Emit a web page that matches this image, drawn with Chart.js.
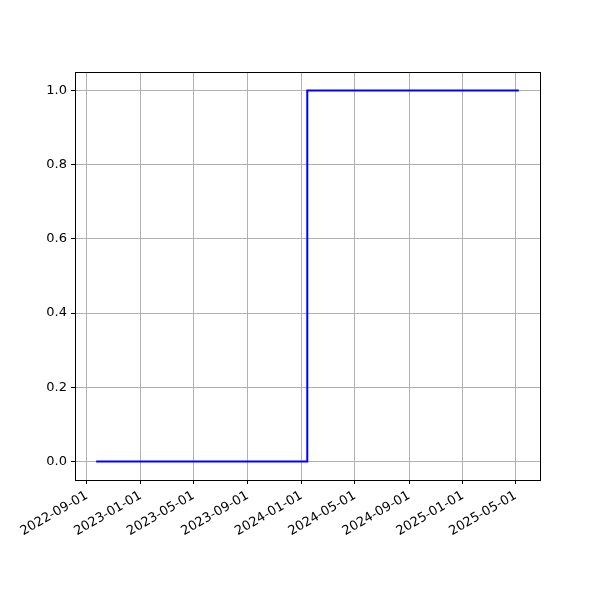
<!DOCTYPE html>
<html>
<head>
<meta charset="utf-8">
<script src="https://cdn.jsdelivr.net/npm/chart.js@4"></script>
<style>
  html, body { margin: 0; padding: 0; background: #fff; }
  #wrap { width: 600px; height: 600px; }
</style>
</head>
<body>
<div id="wrap"><canvas id="Chart" width="600" height="600"></canvas></div>
<script>
// step series
var dates = ['2022-09-22', '2024-01-14', '2025-05-08'];
var values = [0, 1, 1];

var xTickLabels = ['2022-09-01', '2023-01-01', '2023-05-01', '2023-09-01', '2024-01-01',
                   '2024-05-01', '2024-09-01', '2025-01-01', '2025-05-01'];
var yTickLabels = [0.0, 0.2, 0.4, 0.6, 0.8, 1.0];

function toTs(s) {
	var p = s.split('-');
	return Date.UTC(+p[0], +p[1] - 1, +p[2]);
}
function fmt(ts) {
	var d = new Date(ts);
	var m = d.getUTCMonth() + 1, day = d.getUTCDate();
	return d.getUTCFullYear() + '-' + (m < 10 ? '0' : '') + m + '-' + (day < 10 ? '0' : '') + day;
}

var pts = [];
for (var i = 0; i < dates.length; i++) {
	pts.push({ x: toTs(dates[i]), y: values[i] });
}

// 5% margins like matplotlib
var xmin = pts[0].x, xmax = pts[pts.length - 1].x;
var xspan = xmax - xmin;

var frame = {
	id: 'frame',
	afterDraw: function(chart) {
		var a = chart.chartArea, c = chart.ctx;
		c.save();
		c.strokeStyle = '#000';
		c.lineWidth = 1;
		c.strokeRect(Math.round(a.left) + 0.5, Math.round(a.top) + 0.5,
			Math.round(a.right - a.left), Math.round(a.bottom - a.top));
		c.restore();
	}
};

var ctx = document.getElementById('Chart').getContext('2d');
var chart = new Chart(ctx, {
	type: 'line',
	data: {
		datasets: [{
			data: pts,
			borderColor: '#0000ff',
			borderWidth: 2,
			pointRadius: 0,
			stepped: 'before',
			fill: false
		}]
	},
	options: {
		responsive: false,
		animation: false,
		layout: { padding: { top: 72, right: 60, left: 0, bottom: 0 } },
		plugins: { legend: { display: false }, tooltip: { enabled: false } },
		scales: {
			x: {
				type: 'linear',
				min: xmin - xspan * 0.05,
				max: xmax + xspan * 0.05,
				afterBuildTicks: function(axis) {
					axis.ticks = xTickLabels.map(function(s) { return { value: toTs(s) }; });
				},
				afterFit: function(axis) { axis.height = 120; },
				border: { display: false },
				grid: { color: '#b0b0b0', lineWidth: 1, tickColor: '#000', tickLength: 4 },
				ticks: {
					autoSkip: false,
					maxRotation: 30,
					minRotation: 30,
					padding: 4,
					color: '#000',
					font: { family: 'DejaVu Sans', size: 13 },
					callback: function(v) { return fmt(v); }
				}
			},
			y: {
				min: -0.05,
				max: 1.05,
				afterBuildTicks: function(axis) {
					axis.ticks = yTickLabels.map(function(v) { return { value: v }; });
				},
				afterFit: function(axis) { axis.width = 75; },
				border: { display: false },
				grid: { color: '#b0b0b0', lineWidth: 1, tickColor: '#000', tickLength: 4 },
				ticks: {
					padding: 4,
					color: '#000',
					font: { family: 'DejaVu Sans', size: 13 },
					callback: function(v) { return v.toFixed(1); }
				}
			}
		}
	},
	plugins: [frame]
});
</script>
</body>
</html>
